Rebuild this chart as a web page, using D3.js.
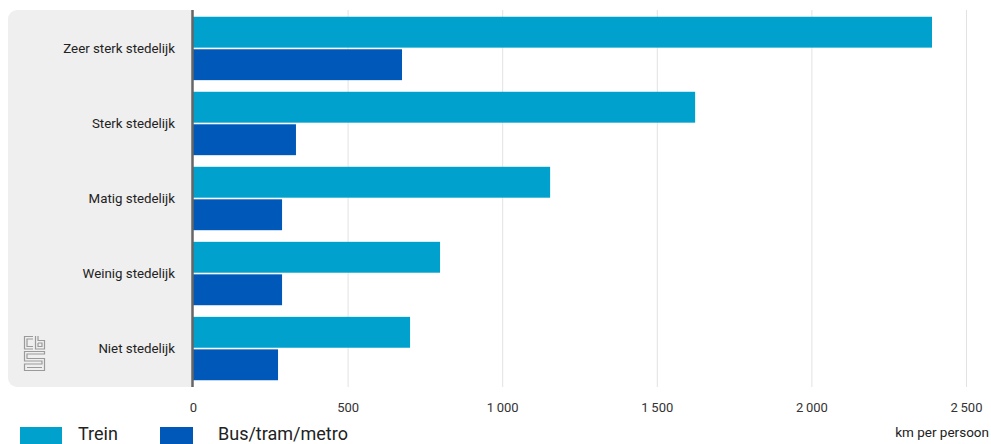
<!DOCTYPE html>
<html><head><meta charset="utf-8">
<script src="https://cdn.jsdelivr.net/npm/d3@7"></script>
<style>body{margin:0;background:#fff;}svg{display:block;font-family:Roboto,"Noto Sans",sans-serif;}</style>
</head><body><svg id="c" width="991" height="444"></svg>
<script>
const categories = ["Zeer sterk stedelijk","Sterk stedelijk","Matig stedelijk","Weinig stedelijk","Niet stedelijk"];
const trein = [2390, 1624, 1155, 799, 702];
const bus = [676, 333, 288, 288, 275];
const seriesNames = ["Trein","Bus/tram/metro"];
const colors = ["#00a1cd","#0058b8"];
const ticks = [0,500,1000,1500,2000,2500];
const unit = "km per persoon";

(function(){
const svg = d3.select("#c");
const T = 10, B = 387, L = 193, R = 966;
const x = d3.scaleLinear().domain([0,2500]).range([L,R]);
const y0 = d3.scaleBand().domain(categories).range([T,B]).paddingInner(0.155).paddingOuter(0.09);
const y1 = d3.scaleBand().domain(seriesNames).range([0,y0.bandwidth()]).paddingInner(0.05);

svg.append("rect").attr("x",8).attr("y",T).attr("width",L-8+8).attr("height",B-T).attr("rx",9).attr("fill","#efefef");
svg.append("rect").attr("x",L-1).attr("y",T).attr("width",10).attr("height",B-T).attr("fill","#fff");

svg.append("g").selectAll("line").data(ticks.filter(t=>t>0)).join("line")
  .attr("x1",d=>x(d)+0.5).attr("x2",d=>x(d)+0.5).attr("y1",T).attr("y2",B)
  .attr("stroke","#e2e2e2").attr("stroke-width",1);

const g = svg.append("g");
categories.forEach((c,i)=>{
  [trein[i],bus[i]].forEach((v,j)=>{
    g.append("rect").attr("x",x(0)).attr("y",y0(c)+y1(seriesNames[j]))
     .attr("width",x(v)-x(0)).attr("height",y1.bandwidth()).attr("fill",colors[j]);
  });
});

svg.append("line").attr("x1",L-0.5).attr("x2",L-0.5).attr("y1",T).attr("y2",B)
  .attr("stroke","#666").attr("stroke-width",2.5);

svg.append("g").selectAll("text").data(categories).join("text")
  .attr("x",175).attr("y",d=>y0(d)+y0.bandwidth()/2+4.5).attr("text-anchor","end")
  .attr("font-size",13.3).attr("fill","#222").text(d=>d);

const fmt = d => d3.format(",")(d).replace(/,/g,"\u2009");
const xAxis = d3.axisBottom(x).tickValues(ticks).tickSize(0).tickPadding(0).tickFormat(fmt);
const ax = svg.append("g").attr("transform",`translate(0,${B+25})`).call(xAxis);
ax.select(".domain").remove();
ax.selectAll("text").attr("font-size",13).attr("fill","#333").attr("dy",0).attr("font-family","Roboto,sans-serif");

svg.append("text").attr("x",989).attr("y",437).attr("text-anchor","end").attr("font-size",13.5).attr("fill","#222").text(unit);

const legX = [20,160], legTX=[78,218];
seriesNames.forEach((s,j)=>{
  svg.append("rect").attr("x",legX[j]).attr("y",427).attr("width",j===0?42:33).attr("height",20).attr("fill",colors[j]);
  svg.append("text").attr("x",legTX[j]).attr("y",440).attr("font-size",18).attr("fill","#222").text(s);
});

const lg = svg.append("g").attr("transform","translate(24,336)").attr("fill","none").attr("stroke","#9a9a9a").attr("stroke-width",1.2);
// c
lg.append("path").attr("d","M9,0.5 H0.5 V13 H9 M9,3 H3 V10.5 H9");
// b
lg.append("path").attr("d","M11.5,0 V13 H20.5 V4.5 H14 V0 M14,7 H18 V10.5 H14 V7");
// S
lg.append("path").attr("d","M20.5,15.5 H0.5 V25 H18 V28 H0.5 V34.5 H20.5 V22.5 H3 V18 H20.5 Z M3,31.5 H18");
})();
</script></body></html>
